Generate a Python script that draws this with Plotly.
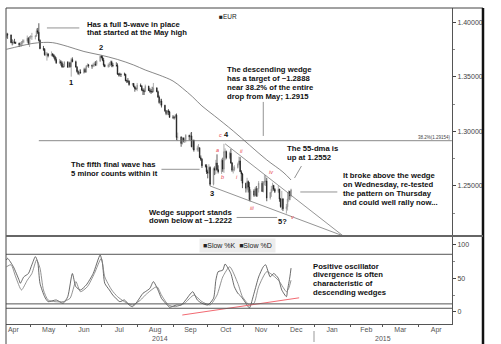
import plotly.graph_objects as go
import pandas as pd

# ---------------- data ----------------
bar_dates = pd.bdate_range("2014-04-10", "2014-12-12")

eur_open = [
    1.3870,1.3890,1.3885,1.3815,1.3815,1.3820,1.3815,1.3810,1.3795,1.3800,1.3815,1.3830,1.3830,1.3855,1.3810,
    1.3870,1.3870,1.3870,1.3875,1.3925,1.3910,1.3835,1.3760,1.3755,1.3705,1.3710,1.3710,1.3695,1.3710,1.3700,1.3685,1.3660,1.3630,1.3640,1.3630,1.3595,1.3595,
    1.3635,1.3590,1.3630,1.3595,1.3660,1.3640,1.3590,1.3550,1.3530,1.3545,1.3540,1.3570,1.3545,1.3600,1.3610,1.3605,1.3600,1.3610,1.3620,1.3615,1.3645,
    1.3690,1.3680,1.3655,1.3610,1.3595,1.3610,1.3615,1.3640,1.3610,1.3605,1.3605,1.3525,1.3525,1.3525,1.3525,1.3525,1.3465,1.3465,1.3460,1.3430,1.3440,1.3410,1.3395,
    1.3390,1.3425,1.3415,1.3380,1.3375,1.3365,1.3415,1.3375,1.3370,1.3365,1.3365,1.3400,1.3365,1.3315,1.3265,1.3280,1.3240,1.3190,1.3165,1.3190,1.3180,
    1.3130,1.3130,1.3130,1.3150,1.2945,1.2950,1.2890,1.2940,1.2920,1.2925,1.2965,1.2950,1.2960,1.2860,1.2920,1.2830,1.2850,1.2850,1.2760,1.2745,1.2685,1.2685,
    1.2630,1.2620,1.2670,1.2515,1.2660,1.2645,1.2710,1.2650,1.2630,1.2735,1.2655,1.2815,1.2815,1.2760,1.2800,1.2710,1.2645,1.2650,1.2670,1.2700,1.2730,1.2630,1.2610,
    1.2525,1.2480,1.2540,1.2490,1.2375,1.2455,1.2415,1.2475,1.2410,1.2475,1.2525,1.2450,1.2535,1.2540,1.2545,1.2390,1.2440,1.2470,1.2505,1.2470,
    1.2450,1.2470,1.2380,1.2310,1.2380,1.2290,1.2310,1.2380,1.2450,1.2410,
]
eur_high = [
    1.3905,1.3905,1.3890,1.3845,1.3835,1.3850,1.3825,1.3815,1.3820,1.3830,1.3845,1.3845,1.3880,1.3865,1.3875,
    1.3885,1.3905,1.3885,1.3945,1.3950,1.3993,1.3845,1.3785,1.3765,1.3730,1.3730,1.3720,1.3735,1.3720,1.3710,1.3695,1.3680,1.3665,1.3655,1.3645,1.3620,1.3645,
    1.3645,1.3640,1.3640,1.3675,1.3680,1.3650,1.3600,1.3560,1.3570,1.3570,1.3585,1.3585,1.3610,1.3625,1.3620,1.3615,1.3630,1.3640,1.3645,1.3655,1.3695,
    1.3700,1.3695,1.3675,1.3620,1.3625,1.3635,1.3650,1.3650,1.3630,1.3635,1.3625,1.3535,1.3540,1.3530,1.3540,1.3530,1.3475,1.3490,1.3470,1.3445,1.3445,1.3420,1.3405,
    1.3445,1.3440,1.3425,1.3395,1.3395,1.3430,1.3420,1.3400,1.3390,1.3410,1.3445,1.3405,1.3375,1.3330,1.3300,1.3300,1.3245,1.3195,1.3195,1.3205,1.3190,
    1.3150,1.3140,1.3160,1.3165,1.2990,1.2955,1.2950,1.2945,1.2945,1.2975,1.2970,1.2990,1.2995,1.2925,1.2925,1.2870,1.2885,1.2855,1.2780,1.2755,1.2700,1.2700,
    1.2650,1.2700,1.2680,1.2670,1.2680,1.2740,1.2790,1.2690,1.2750,1.2760,1.2887,1.2845,1.2825,1.2815,1.2840,1.2720,1.2680,1.2690,1.2715,1.2770,1.2765,1.2645,1.2620,
    1.2530,1.2575,1.2550,1.2535,1.2470,1.2470,1.2490,1.2500,1.2480,1.2545,1.2545,1.2545,1.2600,1.2600,1.2575,1.2445,1.2500,1.2530,1.2510,1.2480,
    1.2500,1.2475,1.2390,1.2455,1.2390,1.2335,1.2440,1.2460,1.2455,1.2475,
]
eur_low = [
    1.3855,1.3850,1.3810,1.3790,1.3800,1.3805,1.3805,1.3775,1.3780,1.3780,1.3795,1.3810,1.3815,1.3795,1.3775,
    1.3850,1.3840,1.3845,1.3870,1.3895,1.3825,1.3755,1.3740,1.3695,1.3690,1.3650,1.3680,1.3690,1.3685,1.3670,1.3645,1.3620,1.3620,1.3605,1.3585,1.3585,1.3590,
    1.3585,1.3585,1.3585,1.3503,1.3635,1.3590,1.3540,1.3520,1.3515,1.3530,1.3530,1.3540,1.3540,1.3590,1.3585,1.3575,1.3590,1.3595,1.3600,1.3600,1.3640,
    1.3670,1.3645,1.3595,1.3590,1.3585,1.3590,1.3600,1.3590,1.3590,1.3595,1.3520,1.3505,1.3505,1.3500,1.3510,1.3460,1.3445,1.3445,1.3420,1.3420,1.3405,1.3365,1.3380,
    1.3370,1.3410,1.3370,1.3335,1.3335,1.3365,1.3380,1.3355,1.3345,1.3355,1.3360,1.3360,1.3310,1.3255,1.3240,1.3220,1.3180,1.3150,1.3150,1.3150,1.3125,
    1.3115,1.3110,1.3120,1.2920,1.2915,1.2860,1.2880,1.2900,1.2895,1.2900,1.2920,1.2915,1.2855,1.2835,1.2815,1.2815,1.2815,1.2755,1.2730,1.2665,1.2670,1.2610,
    1.2570,1.2610,1.2500,1.2505,1.2600,1.2610,1.2640,1.2615,1.2610,1.2630,1.2620,1.2735,1.2745,1.2745,1.2705,1.2630,1.2615,1.2635,1.2660,1.2690,1.2630,1.2545,1.2480,
    1.2440,1.2460,1.2440,1.2360,1.2358,1.2400,1.2405,1.2400,1.2400,1.2440,1.2445,1.2440,1.2505,1.2500,1.2360,1.2375,1.2400,1.2450,1.2455,1.2435,
    1.2435,1.2355,1.2300,1.2280,1.2270,1.2247,1.2275,1.2355,1.2370,1.2395,
]
eur_close = [
    1.3890,1.3885,1.3815,1.3815,1.3820,1.3815,1.3810,1.3795,1.3800,1.3815,1.3830,1.3830,1.3855,1.3810,1.3870,
    1.3870,1.3870,1.3875,1.3925,1.3910,1.3835,1.3760,1.3755,1.3705,1.3710,1.3710,1.3695,1.3710,1.3700,1.3685,1.3660,1.3630,1.3640,1.3630,1.3595,1.3595,1.3635,
    1.3590,1.3630,1.3595,1.3660,1.3640,1.3590,1.3550,1.3530,1.3545,1.3540,1.3570,1.3545,1.3600,1.3610,1.3605,1.3600,1.3610,1.3620,1.3615,1.3645,1.3690,
    1.3680,1.3655,1.3610,1.3595,1.3610,1.3615,1.3640,1.3610,1.3605,1.3605,1.3525,1.3525,1.3525,1.3525,1.3525,1.3465,1.3465,1.3460,1.3430,1.3440,1.3410,1.3395,1.3390,
    1.3425,1.3415,1.3380,1.3375,1.3365,1.3415,1.3375,1.3370,1.3365,1.3365,1.3400,1.3365,1.3315,1.3265,1.3280,1.3240,1.3190,1.3165,1.3190,1.3180,1.3130,
    1.3130,1.3130,1.3150,1.2945,1.2950,1.2890,1.2940,1.2920,1.2925,1.2965,1.2950,1.2960,1.2860,1.2920,1.2830,1.2850,1.2850,1.2760,1.2745,1.2685,1.2685,1.2630,
    1.2620,1.2670,1.2515,1.2660,1.2645,1.2710,1.2650,1.2630,1.2735,1.2655,1.2815,1.2815,1.2760,1.2800,1.2710,1.2645,1.2650,1.2670,1.2700,1.2730,1.2630,1.2610,1.2525,
    1.2480,1.2540,1.2490,1.2375,1.2455,1.2415,1.2475,1.2410,1.2475,1.2525,1.2450,1.2535,1.2540,1.2545,1.2390,1.2440,1.2470,1.2505,1.2470,1.2450,
    1.2470,1.2380,1.2310,1.2380,1.2290,1.2310,1.2380,1.2450,1.2410,1.2465,
]

# 55-day moving average
ma_dates = ["2014-04-10","2014-04-22","2014-05-02","2014-05-12","2014-05-20","2014-06-02","2014-06-16",
            "2014-06-30","2014-07-15","2014-07-29","2014-08-08","2014-08-20","2014-09-01","2014-09-09",
            "2014-09-18","2014-09-26","2014-10-07","2014-10-23","2014-11-06","2014-11-21","2014-12-05","2014-12-12"]
ma_vals = [1.3754,1.3784,1.3807,1.3817,1.3815,1.3780,1.3734,1.3702,1.3661,1.3610,1.3564,1.3518,
           1.3463,1.3399,1.3317,1.3234,1.3142,1.3005,1.2876,1.2739,1.2628,1.2555]

# wedge lines and the 38.2% retracement
wedge_top_dates = ["2014-10-16", "2015-01-26"]
wedge_top_vals = [1.2887, 1.2042]
wedge_bot_dates = ["2014-10-03", "2015-01-26"]
wedge_bot_vals = [1.2500, 1.2042]
fib_dates = ["2014-05-08", "2015-04-30"]
fib_vals = [1.29154, 1.29154]

# slow stochastics
k_dates = ["2014-04-10","2014-04-11","2014-04-16","2014-04-21","2014-04-22","2014-04-25","2014-04-29",
           "2014-05-02","2014-05-05","2014-05-07","2014-05-09","2014-05-13","2014-05-16","2014-05-23",
           "2014-05-29","2014-06-02","2014-06-06","2014-06-09","2014-06-13","2014-06-18","2014-06-24",
           "2014-06-30","2014-07-02","2014-07-04","2014-07-08","2014-07-11","2014-07-17","2014-07-21",
           "2014-07-25","2014-07-28","2014-08-01","2014-08-06","2014-08-08","2014-08-12","2014-08-15",
           "2014-08-19","2014-08-22","2014-08-27","2014-08-29","2014-09-04","2014-09-08","2014-09-12",
           "2014-09-18","2014-09-22","2014-09-26","2014-10-01","2014-10-06","2014-10-08","2014-10-10",
           "2014-10-14","2014-10-16","2014-10-21","2014-10-24","2014-10-27","2014-10-30","2014-11-03",
           "2014-11-06","2014-11-10","2014-11-14","2014-11-18","2014-11-20","2014-11-24","2014-11-27",
           "2014-12-01","2014-12-04","2014-12-08","2014-12-09","2014-12-11","2014-12-12"]
k_vals = [77,79.5,67,47,42.5,52,57,70,82,74.5,42.5,22.7,15.3,17.8,12.9,22.7,57,37.5,32.6,40,57,
          84.4,72,42.5,32.6,25,15.3,17.8,10.4,7.9,15.3,27.7,30,35,45,32.6,20.3,10.4,7,10.4,10.4,17.8,
          30,17.8,12.9,10.4,20.3,47,59.7,62,71,57,37.5,27.7,22.7,12.9,6,27.7,52,67,70,52,57,50,32.6,
          22.7,32.6,52,65]
d_dates = ["2014-04-10","2014-04-14","2014-04-18","2014-04-23","2014-04-28","2014-05-02","2014-05-06",
           "2014-05-09","2014-05-12","2014-05-16","2014-05-22","2014-05-29","2014-06-04","2014-06-09",
           "2014-06-13","2014-06-19","2014-06-25","2014-07-01","2014-07-04","2014-07-10","2014-07-15",
           "2014-07-21","2014-07-28","2014-08-04","2014-08-08","2014-08-18","2014-08-22","2014-08-28",
           "2014-09-03","2014-09-11","2014-09-19","2014-09-26","2014-10-03","2014-10-09","2014-10-14",
           "2014-10-20","2014-10-27","2014-10-31","2014-11-06","2014-11-10","2014-11-14","2014-11-21",
           "2014-11-28","2014-12-02","2014-12-08","2014-12-10","2014-12-12"]
d_vals = [67,70,52,32.6,47,57,77,65,32.6,17.8,15.3,15.3,20.3,45,30,37.5,57,79.5,52,32.6,22.7,15.3,
          10.4,17.8,25,37.5,25,10.4,7.9,12.9,25,15.3,10.4,25,52,67,42.5,22.7,10.4,12.9,37.5,59.7,52,
          45,30,35,47]
div_dates = ["2014-09-09", "2014-12-19"]
div_vals = [-4.5, 21]
osc_levels = [85.5, 12, 5.5]

# ---------------- layout helpers (pixel -> paper) ----------------
L, T, PW, PH = 6, 8, 446, 316
def px(x): return (x - L) / PW
def py(y): return 1 - (y - T) / PH
SPLIT = py(236)
FONT = "Liberation Sans, Arial, sans-serif"

fig = go.Figure()
fig.add_trace(go.Candlestick(
    x=bar_dates, open=eur_open, high=eur_high, low=eur_low, close=eur_close,
    increasing=dict(line=dict(color="#8a8a8a", width=0.7), fillcolor="#b8b8b8"),
    decreasing=dict(line=dict(color="#151515", width=0.7), fillcolor="#151515"),
    whiskerwidth=0, xaxis="x", yaxis="y", showlegend=False, hoverinfo="skip"))
fig.add_trace(go.Scatter(x=ma_dates, y=ma_vals, mode="lines", line=dict(color="#6a6a6a", width=0.8, shape="spline", smoothing=1),
                         xaxis="x", yaxis="y", showlegend=False, hoverinfo="skip"))
for xs, ys in [(wedge_top_dates, wedge_top_vals), (wedge_bot_dates, wedge_bot_vals)]:
    fig.add_trace(go.Scatter(x=xs, y=ys, mode="lines", line=dict(color="#7a7a7a", width=0.8),
                             xaxis="x", yaxis="y", showlegend=False, hoverinfo="skip"))
fig.add_trace(go.Scatter(x=fib_dates, y=fib_vals, mode="lines", line=dict(color="#6a6a6a", width=0.8),
                         xaxis="x", yaxis="y", showlegend=False, hoverinfo="skip"))
fig.add_trace(go.Scatter(x=k_dates, y=k_vals, mode="lines", line=dict(color="#444444", width=0.8, shape="spline", smoothing=0.6),
                         xaxis="x", yaxis="y2", showlegend=False, hoverinfo="skip"))
fig.add_trace(go.Scatter(x=d_dates, y=d_vals, mode="lines", line=dict(color="#777777", width=0.8, shape="spline", smoothing=0.6),
                         xaxis="x", yaxis="y2", showlegend=False, hoverinfo="skip"))
fig.add_trace(go.Scatter(x=div_dates, y=div_vals, mode="lines", line=dict(color="#f26a72", width=1),
                         xaxis="x", yaxis="y2", showlegend=False, hoverinfo="skip"))

shapes = []
for lv in osc_levels:
    shapes.append(dict(type="line", xref="paper", yref="y2", x0=0, x1=1, y0=lv, y1=lv,
                       line=dict(color="#555555", width=1)))
# pointer lines
pointers = [("2014-05-15", 1.3950, "2014-06-12", 1.3950),
            ("2014-11-18", 1.3271, "2014-11-18", 1.2959),
            ("2014-08-22", 1.2653, "2014-09-24", 1.2653),
            ("2014-10-26", 1.2211, "2014-11-30", 1.2211),
            ("2014-12-21", 1.2683, "2014-12-15", 1.2573),
            ("2014-12-20", 1.2445, "2015-01-21", 1.2445)]
for x0, y0, x1, y1 in pointers:
    shapes.append(dict(type="line", xref="x", yref="y", x0=x0, y0=y0, x1=x1, y1=y1,
                       line=dict(color="#777777", width=0.8)))
# frame
RX = px(483)
shapes += [
    dict(type="line", xref="paper", yref="paper", x0=0, x1=RX, y0=1, y1=1, line=dict(color="#444", width=1)),
    dict(type="line", xref="paper", yref="paper", x0=0, x1=0, y0=1, y1=py(346), line=dict(color="#444", width=1)),
    dict(type="line", xref="paper", yref="paper", x0=RX, x1=RX, y0=1, y1=py(346), line=dict(color="#111", width=2.5)),
    dict(type="line", xref="paper", yref="paper", x0=0, x1=RX, y0=SPLIT, y1=SPLIT, line=dict(color="#666", width=2)),
    dict(type="line", xref="paper", yref="paper", x0=px(314), x1=px(314), y0=py(331), y1=py(342), line=dict(color="#999", width=1)),
]

ann = []
def block(lines, x, y0, dy=8.7, size=7.7):
    for i, t in enumerate(lines):
        ann.append(dict(text="<b>%s</b>" % t, xref="paper", yref="paper", x=px(x), y=py(y0 + i * dy),
                        xanchor="left", yanchor="middle", showarrow=False, borderpad=0,
                        font=dict(family=FONT, size=size, color="#111")))

block(["Has a full 5-wave in place", "that started at the May high"], 86, 24)
block(["The descending wedge", "has a target of ~1.2888", "near 38.2% of the entire", "drop from May; 1.2915"], 226, 70)
block(["The fifth final wave has", "5 minor counts within it"], 70, 164.3)
block(["Wedge support stands", "down below at ~1.2222"], 148, 212)
block(["The 55-dma is", "up at 1.2552"], 286, 149)
block(["It broke above the wedge", "on Wednesday, re-tested", "the pattern on Thursday", "and could well rally now..."], 342, 176)
block(["Positive oscillator", "divergence is often", "characteristic of", "descending wedges"], 312, 266)

wave_black = [("1", "2014-06-05", 1.3445), ("2", "2014-07-01", 1.3775), ("3", "2014-10-05", 1.2433),
              ("4", "2014-10-17", 1.2968), ("5?", "2014-12-05", 1.2172)]
wave_red = [("c", "2014-10-12", 1.2968), ("a", "2014-10-09", 1.2830), ("b", "2014-10-14", 1.2580),
            ("i", "2014-10-26", 1.2585), ("ii", "2014-10-30", 1.2824), ("iii", "2014-11-08", 1.2295),
            ("iv", "2014-11-25", 1.2631), ("v", "2014-12-14", 1.2218)]
for t, x, y in wave_black:
    ann.append(dict(text="<b>%s</b>" % t, x=x, y=y, xref="x", yref="y", showarrow=False,
                    font=dict(family=FONT, size=7.5, color="#111")))
for t, x, y in wave_red:
    ann.append(dict(text="<i>%s</i>" % t, x=x, y=y, xref="x", yref="y", showarrow=False,
                    font=dict(family=FONT, size=5.5, color="#e8404c")))

ann.append(dict(text="38.2%(1.29154)", x=fib_dates[1], y=fib_vals[0], xref="x", yref="y",
                xanchor="right", yanchor="bottom", showarrow=False, borderpad=0,
                font=dict(family=FONT, size=4.5, color="#444")))
ann.append(dict(text="■EUR", xref="paper", yref="paper", x=px(218), y=py(16), xanchor="left", yanchor="middle",
                showarrow=False, borderpad=0, font=dict(family=FONT, size=6.5, color="#222")))
ann.append(dict(text="■Slow %K  ■Slow %D", xref="paper", yref="paper", x=px(199), y=py(245),
                xanchor="left", yanchor="middle", showarrow=False, borderpad=3, bgcolor="#ededed",
                font=dict(family=FONT, size=7, color="#222")))
for t, x in [("2014", 160), ("2015", 383)]:
    ann.append(dict(text=t, xref="paper", yref="paper", x=px(x), y=py(338), xanchor="center", yanchor="middle",
                    showarrow=False, font=dict(family=FONT, size=7, color="#555")))

fig.update_layout(
    width=501, height=344, autosize=False,
    margin=dict(l=L, r=501 - 452, t=T, b=344 - 324, pad=0),
    paper_bgcolor="white", plot_bgcolor="white",
    font=dict(family=FONT, size=7, color="#444"),
    showlegend=False,
    xaxis=dict(type="date", range=["2014-04-09 15:00", "2015-04-30 03:00"], domain=[0, 1], anchor="y2",
               dtick="M1", tickformat="%b", ticklabelmode="period", ticks="outside", ticklen=2,
               ticklabelstandoff=-3,
               tickcolor="#555", showline=True, linecolor="#555", linewidth=1, showgrid=False,
               zeroline=False, tickfont=dict(size=7, color="#555"), rangeslider=dict(visible=False)),
    yaxis=dict(domain=[SPLIT, 1], range=[1.2041, 1.4133], side="right", anchor="x", tickformat=".5f",
               tick0=1.25, dtick=0.05, ticks="outside", ticklen=3, tickcolor="#444",
               minor=dict(dtick=0.025, ticks="outside", ticklen=2, tickcolor="#888"),
               showline=True, linecolor="#555", showgrid=False, zeroline=False,
               tickfont=dict(size=7, color="#444")),
    yaxis2=dict(domain=[0, SPLIT], range=[-17.8, 112.6], side="right", anchor="x", tick0=0, dtick=50,
                ticks="outside", ticklen=3, tickcolor="#444",
                minor=dict(dtick=25, ticks="outside", ticklen=2, tickcolor="#888"),
                showline=True, linecolor="#555", showgrid=False, zeroline=False,
                tickfont=dict(size=7, color="#444")),
    shapes=shapes, annotations=ann,
)

fig.write_html("out.html", config={"displayModeBar": False})
